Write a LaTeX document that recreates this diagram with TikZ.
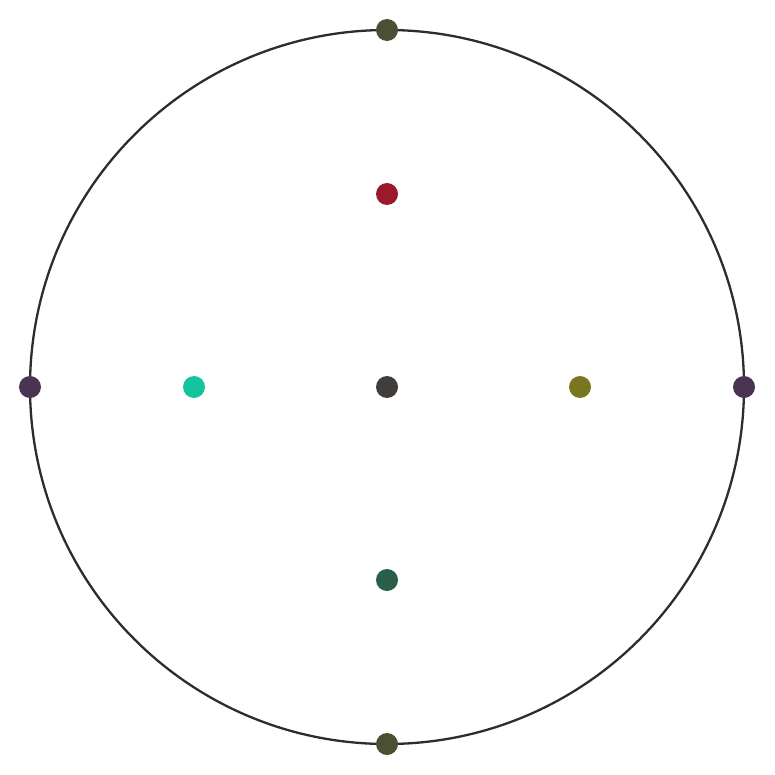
\documentclass[tikz,border=0pt]{standalone}
\definecolor{cOl}{HTML}{4B5034}
\definecolor{cRed}{HTML}{9A1A2A}
\definecolor{cPur}{HTML}{4A3452}
\definecolor{cTeal}{HTML}{14C49C}
\definecolor{cCen}{HTML}{403D3A}
\definecolor{cYel}{HTML}{7A7620}
\definecolor{cGrn}{HTML}{2B5E48}
\definecolor{cLine}{HTML}{2D2D2D}
\begin{document}
\begin{tikzpicture}[x=1pt,y=-1pt,
  dot/.style={circle,inner sep=0pt,minimum size=22pt,draw=none}]
\useasboundingbox (0,0) rectangle (775,775);
\node[circle,draw=cLine,line width=2.3pt,minimum size=714pt,inner sep=0pt] (ring) at (387,387) {};
\node[dot,fill=cOl] (top) at (387,30) {};
\node[dot,fill=cOl] (bot) at (387,744) {};
\node[dot,fill=cPur] (left) at (30,387) {};
\node[dot,fill=cPur] (right) at (744,387) {};
\node[dot,fill=cRed] (n) at (387,194) {};
\node[dot,fill=cGrn] (s) at (387,580) {};
\node[dot,fill=cTeal] (w) at (194,387) {};
\node[dot,fill=cYel] (e) at (580,387) {};
\node[dot,fill=cCen] (c) at (387,387) {};
\end{tikzpicture}
\end{document}
